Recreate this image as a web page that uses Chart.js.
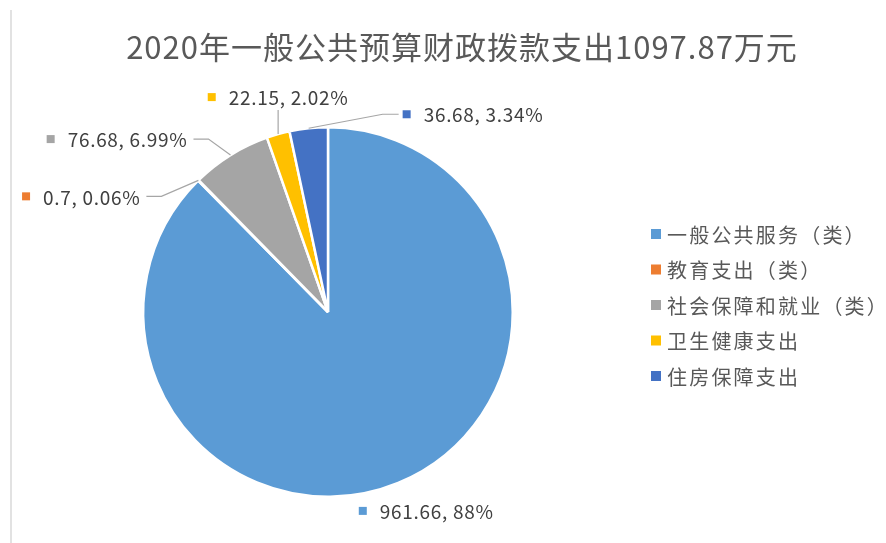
<!DOCTYPE html>
<html>
<head>
<meta charset="utf-8">
<script src="https://cdn.jsdelivr.net/npm/chart.js@4.4.1/dist/chart.umd.min.js"></script>
<style>
  html, body { margin: 0; padding: 0; background: #fff; }
  #wrap { width: 886px; height: 543px; }
</style>
</head>
<body>
<div id="wrap"><canvas id="pieChart" width="886" height="543"></canvas></div>
<script>
const titleText = "2020年一般公共预算财政拨款支出1097.87万元";
const categories = ["一般公共服务（类）", "教育支出（类）", "社会保障和就业（类）", "卫生健康支出", "住房保障支出"];
const amounts = [961.66, 0.7, 76.68, 22.15, 36.68];
const pctLabels = ["88%", "0.06%", "6.99%", "2.02%", "3.34%"];
const colors = ["#5B9BD5", "#ED7D31", "#A5A5A5", "#FFC000", "#4472C4"];

const FONT = "'Noto Sans CJK SC', 'Noto Sans', sans-serif";

// where each data label sits, relative to the outer edge of its slice
const labelPlace = [
  { dx: 28, dy: 28, align: "center", leader: false },
  { dx: -52, dy: 16, align: "right", leader: true, elbow: 15 },
  { dx: -37, dy: -16, align: "right", leader: true, elbow: 15 },
  { dx: 0, dy: -24, align: "above", leader: true },
  { dx: 90, dy: -14, align: "left", leader: true, elbow: -16 }
];

const extras = {
  id: "extras",
  afterDraw(chart) {
    const ctx = chart.ctx;
    ctx.save();

    // faint frame edge on the left
    ctx.strokeStyle = "#d9d9d9";
    ctx.lineWidth = 1.5;
    ctx.beginPath();
    ctx.moveTo(11, 10);
    ctx.lineTo(11, 543);
    ctx.stroke();

    // title
    ctx.fillStyle = "#595959";
    ctx.font = "31px " + FONT;
    ctx.letterSpacing = "1px";
    ctx.textAlign = "center";
    ctx.textBaseline = "middle";
    ctx.fillText(titleText, 462, 47);

    // legend
    ctx.font = "20px " + FONT;
    ctx.letterSpacing = "2.2px";
    ctx.textAlign = "left";
    categories.forEach((c, i) => {
      const y = 234 + i * 35.5;
      ctx.fillStyle = colors[i];
      ctx.fillRect(651, y - 5, 10, 10);
      ctx.fillStyle = "#595959";
      ctx.fillText(c, 667, y + 1);
    });

    // data labels
    const arcs = chart.getDatasetMeta(0).data;
    ctx.font = "19px " + FONT;
    ctx.letterSpacing = "0.7px";
    arcs.forEach((arc, i) => {
      const mid = (arc.startAngle + arc.endAngle) / 2;
      const ex = arc.x + Math.cos(mid) * arc.outerRadius;
      const ey = arc.y + Math.sin(mid) * arc.outerRadius;
      const p = labelPlace[i];
      const ax = ex + p.dx, ay = ey + p.dy;
      const txt = amounts[i] + ", " + pctLabels[i];
      const tw = ctx.measureText(txt).width;
      const full = 8 + 13 + tw;

      if (p.leader) {
        ctx.strokeStyle = "#A6A6A6";
        ctx.lineWidth = 1.2;
        ctx.beginPath();
        ctx.moveTo(ex, ey);
        if (p.elbow) ctx.lineTo(ax + p.elbow, ay);
        ctx.lineTo(ax, ay);
        ctx.stroke();
      }

      let left, cy;
      if (p.align === "right") { left = ax - 6 - full; cy = ay; }
      else if (p.align === "left") { left = ax + 4; cy = ay; }
      else if (p.align === "above") { left = ax - full / 2; cy = ay - 13; }
      else { left = ax - full / 2; cy = ay; }

      ctx.fillStyle = colors[i];
      ctx.fillRect(left, cy - 4, 8, 8);
      ctx.fillStyle = "#404040";
      ctx.textAlign = "left";
      ctx.fillText(txt, left + 21, cy + 1);
    });

    ctx.restore();
  }
};

new Chart(document.getElementById("pieChart"), {
  type: "pie",
  data: {
    labels: categories,
    datasets: [{
      data: amounts,
      backgroundColor: colors,
      borderColor: "#ffffff",
      borderWidth: 2.5
    }]
  },
  options: {
    responsive: false,
    animation: false,
    layout: { padding: { top: 126, bottom: 45, left: 142, right: 372 } },
    plugins: {
      legend: { display: false },
      title: { display: false },
      tooltip: { enabled: false }
    }
  },
  plugins: [extras]
});
</script>
</body>
</html>
